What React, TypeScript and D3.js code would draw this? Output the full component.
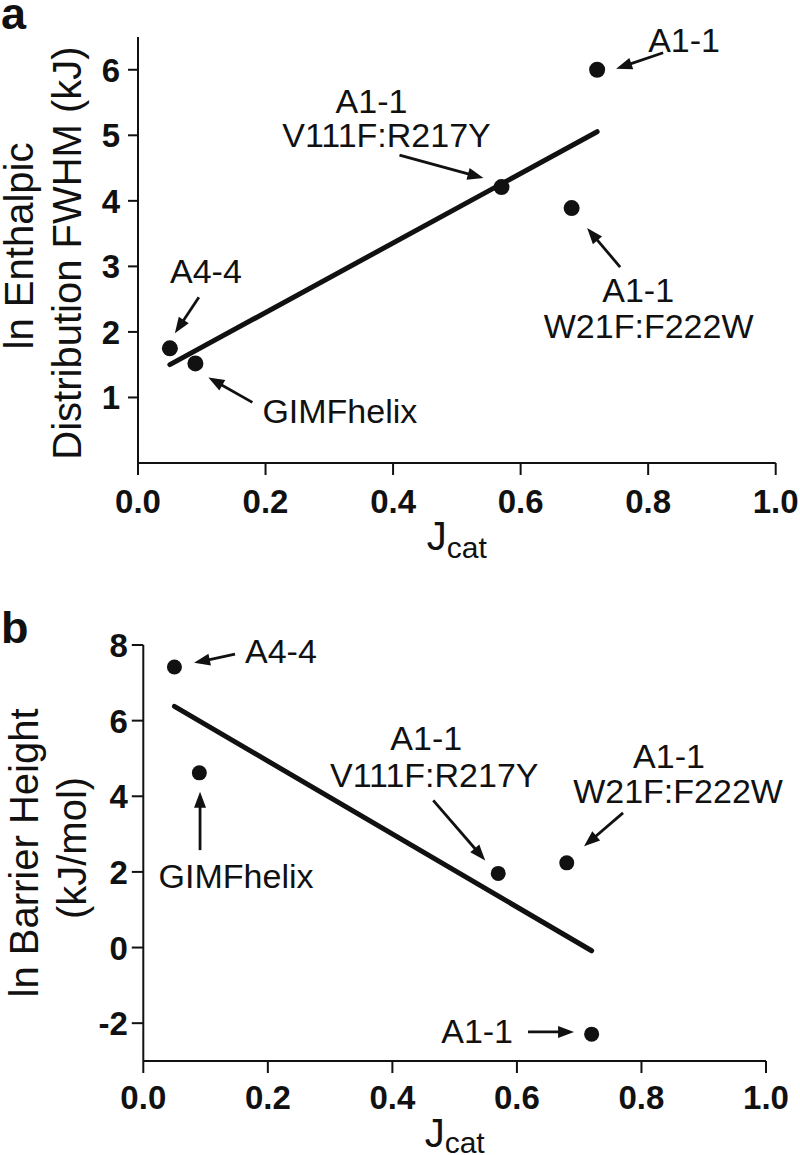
import React, { useEffect } from "react";
import * as d3 from "d3";

// ---------- data ----------
const labelLines = [["A4-4"], ["GIMFhelix"], ["A1-1", "V111F:R217Y"], ["A1-1"], ["A1-1", "W21F:F222W"]];
const jcat = [0.05, 0.09, 0.57, 0.72, 0.68];
const fwhm = [1.75, 1.52, 4.21, 6.0, 3.89];
const barrier = [7.42, 4.62, 1.96, -2.29, 2.24];
const xTicks = [0, 0.2, 0.4, 0.6, 0.8, 1.0];
const yTicksA = [1, 2, 3, 4, 5, 6];
const yTicksB = [-2, 0, 2, 4, 6, 8];
const yTitleA = ["ln Enthalpic", "Distribution FWHM (kJ)"];
const yTitleB = ["ln Barrier Height", "(kJ/mol)"];

// ---------- layout (pixel offsets of annotations relative to each dot) ----------
type Ann = { lines: { dx: number; dy: number; anchor: string }[]; arrow: number[] };
const annA: Ann[] = [
  { lines: [{ dx: 36, dy: -65, anchor: "middle" }], arrow: [29, -51, 5, -15] },
  { lines: [{ dx: 67, dy: 60, anchor: "start" }], arrow: [57, 39, 13, 14] },
  { lines: [{ dx: -130, dy: -74, anchor: "middle" }, { dx: -115, dy: -40, anchor: "middle" }], arrow: [-102, -32, -18, -9] },
  { lines: [{ dx: 51, dy: -18, anchor: "start" }], arrow: [66, -17, 19, -1] },
  { lines: [{ dx: 66.5, dy: 94, anchor: "middle" }, { dx: 77, dy: 130, anchor: "middle" }], arrow: [48.5, 59, 15.5, 20] },
];
const annB: Ann[] = [
  { lines: [{ dx: 70.6, dy: -3.8, anchor: "start" }], arrow: [60.6, -12.8, 19.6, -4.1] },
  { lines: [{ dx: 36.7, dy: 115.3, anchor: "middle" }], arrow: [0.7, 77.3, 0.7, 19] },
  { lines: [{ dx: -72, dy: -123, anchor: "middle" }, { dx: -64, dy: -86.5, anchor: "middle" }], arrow: [-65, -73, -13, -13] },
  { lines: [{ dx: -78.6, dy: 9, anchor: "end" }], arrow: [-63.6, -2.2, -17.6, -2.2] },
  { lines: [{ dx: 102.3, dy: -94.6, anchor: "middle" }, { dx: 111.3, dy: -59.6, anchor: "middle" }], arrow: [56.3, -49.9, 17.3, -16.6] },
];

const FONT = '"Liberation Sans", Arial, Helvetica, sans-serif';
const INK = "#111";

function Arrow({ fx, fy, tx, ty }: { fx: number; fy: number; tx: number; ty: number }) {
  const ang = Math.atan2(ty - fy, tx - fx);
  const L = 16, W = 6;
  const bx = tx - L * Math.cos(ang), by = ty - L * Math.sin(ang);
  const px = -Math.sin(ang) * W, py = Math.cos(ang) * W;
  const sx = tx - L * 0.7 * Math.cos(ang), sy = ty - L * 0.7 * Math.sin(ang);
  return (
    <g>
      <line x1={fx} y1={fy} x2={sx} y2={sy} stroke={INK} strokeWidth={2.8} />
      <polygon points={`${tx},${ty} ${bx + px},${by + py} ${bx - px},${by - py}`} fill={INK} />
    </g>
  );
}

type PanelProps = {
  ys: number[]; yDomain: [number, number]; yTicks: number[];
  left: number; right: number; top: number; bottom: number;
  dotR: number; tickLenY: number; labelGapY: number; xLabelDy: number; jcatDy: number; subDy: number;
  titleLines: string[]; titleX: [number, number]; titleCY: [number, number];
  letter: string; letterY: number; ann: Ann[];
};

function Panel(p: PanelProps) {
  const x = d3.scaleLinear().domain([0, 1]).range([p.left, p.right]);
  const y = d3.scaleLinear().domain(p.yDomain).range([p.bottom, p.top]);
  // least-squares fit through the points
  const mx = d3.mean(jcat)!, my = d3.mean(p.ys)!;
  const sxy = d3.sum(jcat, (v, i) => (v - mx) * (p.ys[i] - my));
  const sxx = d3.sum(jcat, (v) => (v - mx) ** 2);
  const slope = sxy / sxx, icpt = my - slope * mx;
  const [x0, x1] = d3.extent(jcat) as [number, number];
  const fit = d3.line<number>().x((v) => x(v)).y((v) => y(icpt + slope * v))([x0, x1]);
  const cx = (p.left + p.right) / 2;
  return (
    <g fontFamily={FONT} fill={INK}>
      <text x={1} y={p.letterY} fontSize={45} fontWeight="bold">{p.letter}</text>
      {/* axes */}
      <line x1={p.left} y1={p.top} x2={p.left} y2={p.bottom} stroke={INK} strokeWidth={2} />
      <line x1={p.left} y1={p.bottom} x2={p.right} y2={p.bottom} stroke={INK} strokeWidth={2} />
      {p.yTicks.map((t) => (
        <g key={"y" + t}>
          <line x1={p.left - p.tickLenY} x2={p.left} y1={y(t)} y2={y(t)} stroke={INK} strokeWidth={2} />
          <text x={p.left - p.tickLenY - p.labelGapY} y={y(t) + 12} textAnchor="end" fontSize={33} fontWeight="bold">{t}</text>
        </g>
      ))}
      {xTicks.map((t) => (
        <g key={"x" + t}>
          <line x1={x(t)} x2={x(t)} y1={p.bottom} y2={p.bottom + 12} stroke={INK} strokeWidth={2} />
          <text x={x(t)} y={p.bottom + p.xLabelDy} textAnchor="middle" fontSize={33} fontWeight="bold">{d3.format(".1f")(t)}</text>
        </g>
      ))}
      <text x={cx} y={p.bottom + p.jcatDy} textAnchor="middle" fontSize={40}>
        J<tspan fontSize={30} dy={p.subDy}>cat</tspan>
      </text>
      {p.titleLines.map((s, i) => (
        <text key={s} transform={`translate(${p.titleX[i]},${p.titleCY[i]}) rotate(-90)`} textAnchor="middle" fontSize={40}>{s}</text>
      ))}
      {/* fit line */}
      <path d={fit || ""} stroke={INK} strokeWidth={5} fill="none" strokeLinecap="round" />
      {/* points */}
      {jcat.map((v, i) => (
        <circle key={"c" + i} cx={x(v)} cy={y(p.ys[i])} r={p.dotR} fill={INK} />
      ))}
      {/* annotations */}
      {jcat.map((v, i) => {
        const px = x(v), py = y(p.ys[i]);
        const a = p.ann[i];
        return (
          <g key={"a" + i}>
            {labelLines[i].map((s, j) => (
              <text key={j} x={px + a.lines[j].dx} y={py + a.lines[j].dy} textAnchor={a.lines[j].anchor as any} fontSize={34}>{s}</text>
            ))}
            <Arrow fx={px + a.arrow[0]} fy={py + a.arrow[1]} tx={px + a.arrow[2]} ty={py + a.arrow[3]} />
          </g>
        );
      })}
    </g>
  );
}

export default function App() {
  useEffect(() => {
    document.body.style.margin = "0";
  }, []);
  return (
    <svg width={800} height={1155} style={{ display: "block", position: "absolute", left: 0, top: 0, background: "#fff" }}>
      <rect width={800} height={1155} fill="#fff" />
      <Panel
        ys={fwhm} yDomain={[0, 6.5]} yTicks={yTicksA}
        left={138} right={775.7} top={37} bottom={463}
        dotR={8} tickLenY={10} labelGapY={8} xLabelDy={50} jcatDy={87} subDy={8}
        titleLines={yTitleA} titleX={[33, 81]} titleCY={[246, 253]}
        letter="a" letterY={29} ann={annA}
      />
      <Panel
        ys={barrier} yDomain={[-3, 8]} yTicks={yTicksB}
        left={143.3} right={766} top={645} bottom={1061}
        dotR={7.5} tickLenY={11.5} labelGapY={4} xLabelDy={48} jcatDy={86} subDy={6}
        titleLines={yTitleB} titleX={[38, 86]} titleCY={[853, 848]}
        letter="b" letterY={643} ann={annB}
      />
    </svg>
  );
}
